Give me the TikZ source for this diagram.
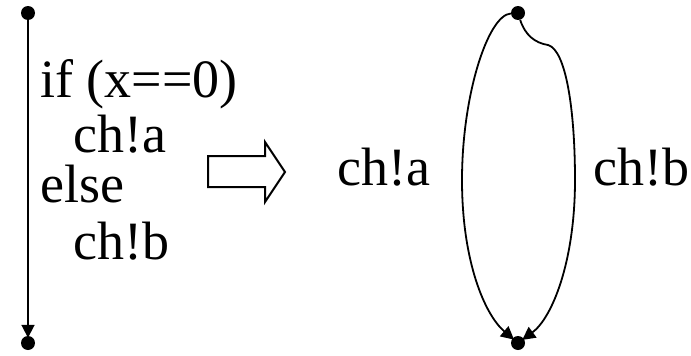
\documentclass[tikz,border=0pt]{standalone}
\usepackage{fontspec}
\setmainfont{Liberation Serif}
\usetikzlibrary{arrows.meta,shapes.arrows}
\begin{document}
\begin{tikzpicture}[x=1pt,y=-1pt,
  dot/.style={circle,fill=black,inner sep=0pt,minimum size=14pt},
  txt/.style={anchor=base west,inner sep=0pt,font=\fontsize{54}{60}\selectfont},
  edge/.style={line width=1.8pt,-{Triangle[width=13pt,length=13pt]},shorten >=-2pt}]
\useasboundingbox (0,0) rectangle (691,356);
% left
\node[dot] (s) at (28,13) {};
\node[dot] (e) at (28,343) {};
\draw[edge] (s) -- (e);
\node[txt] (t1) at (40,97) {if (x==0)};
\node[txt] (t2) at (73,152) {ch!a};
\node[txt] (t3) at (40,202) {else};
\node[txt] (t4) at (73,259) {ch!b};
% block arrow
\draw[line width=2pt,line join=miter] (208,156) -- (265,156) -- (265,142) -- (285,172) -- (265,202) -- (265,187) -- (208,187) -- cycle;
% right
\node[dot] (a) at (518,13) {};
\node[dot] (b) at (518,343) {};
\draw[edge] (a) .. controls (488,15) and (462,95) .. (462,180) .. controls (462,262) and (485,315) .. (b);
\draw[edge] (a) .. controls (525,35) and (535,43) .. (548,45) .. controls (566,50) and (575,110) .. (575,180) .. controls (575,262) and (552,318) .. (b);
\node[txt] (la) at (337,185) {ch!a};
\node[txt] (lb) at (593,185) {ch!b};
\end{tikzpicture}
\end{document}
